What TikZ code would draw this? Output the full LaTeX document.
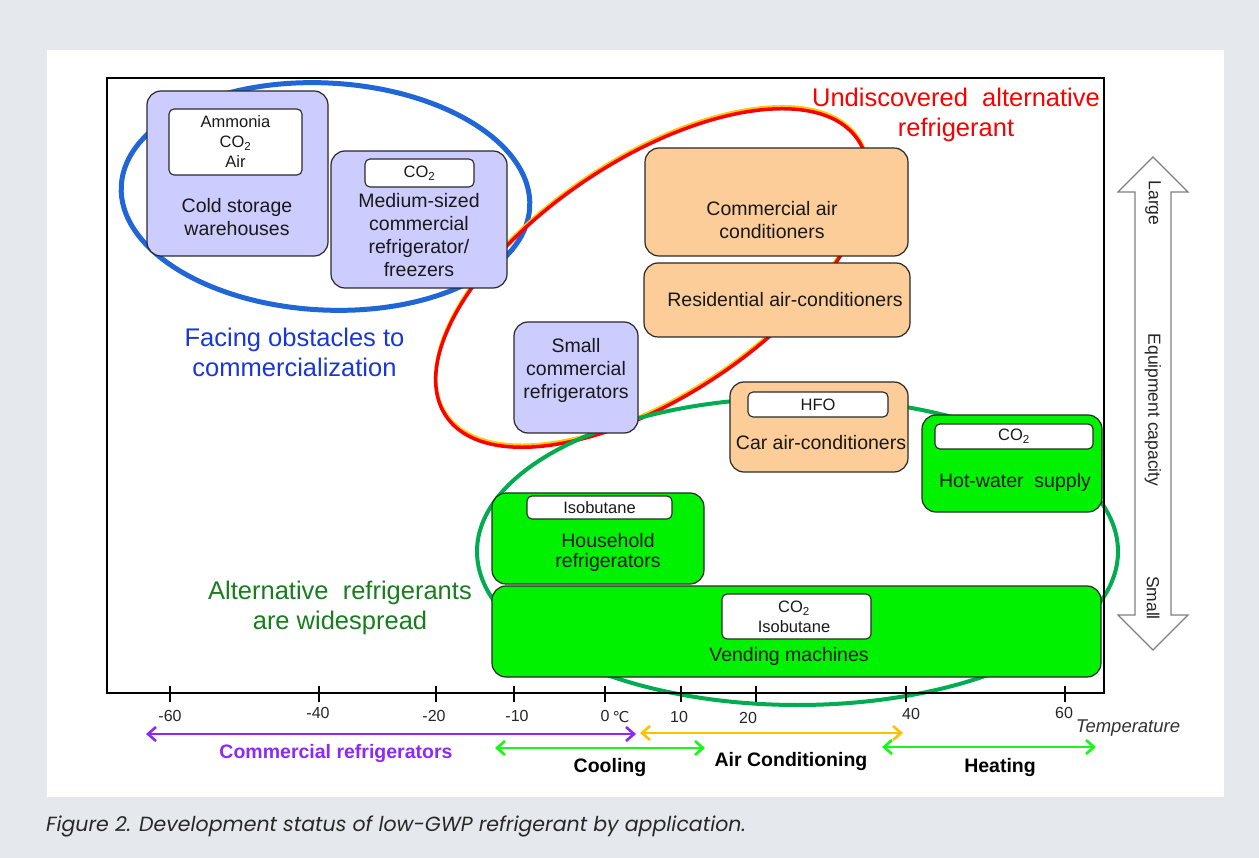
\documentclass[tikz,border=0pt]{standalone}
\usepackage{fontspec}
\setmainfont{Liberation Sans}
\newfontfamily\capfont{Poppins}
\newfontfamily\dejavu{DejaVu Sans}
\usetikzlibrary{arrows.meta}
\definecolor{bgc}{RGB}{229,233,237}
\definecolor{lav}{RGB}{204,204,255}
\definecolor{peach}{RGB}{252,204,153}
\definecolor{gbox}{RGB}{0,242,0}
\definecolor{eblue}{RGB}{32,102,214}
\definecolor{tblue}{RGB}{25,55,215}
\definecolor{egreen}{RGB}{0,172,80}
\definecolor{tgreen}{RGB}{25,125,30}
\definecolor{rred}{RGB}{250,0,0}
\definecolor{ryel}{RGB}{255,200,0}
\definecolor{purp}{RGB}{140,40,250}
\definecolor{aorange}{RGB}{255,192,0}
\definecolor{agreen}{RGB}{20,250,20}
\definecolor{edge}{RGB}{40,40,40}
\definecolor{capc}{RGB}{40,40,40}
\newcommand\cotwo{CO\textsubscript{2}}
\tikzset{
  box/.style={draw=edge, line width=1.2pt, rounded corners=14pt, inner sep=0pt},
  tag/.style={draw=edge, fill=white, line width=1.1pt, rounded corners=5pt, inner sep=0pt},
  txt/.style={font=\fontsize{19.5}{23}\selectfont, text=black!90, align=center, inner sep=0pt},
  smalltxt/.style={font=\fontsize{16.5}{20}\selectfont, text=black!90, align=center, inner sep=0pt},
  big/.style={font=\fontsize{25.5}{30}\selectfont, align=center, inner sep=0pt},
  ticklab/.style={font=\fontsize{16}{18}\selectfont, text=black!85, inner sep=0pt},
  rng/.style={line width=2.6pt, {Straight Barb[length=8pt,width=14pt]}-{Straight Barb[length=8pt,width=14pt]}},
  rlab/.style={font=\bfseries\fontsize{19.5}{23}\selectfont, inner sep=0pt},
  vlab/.style={font=\fontsize{17.5}{21}\selectfont, text=black!85, rotate=-90, inner sep=0pt},
}
\begin{document}
\begin{tikzpicture}[x=1pt,y=-1pt]
\useasboundingbox (0,0) rectangle (1259,858);
\fill[bgc] (0,0) rectangle (1259,858);
\fill[white] (47,50) rectangle (1224,797);

% ellipses
\draw[eblue, line width=5pt, rotate around={-3:(325.5,196.5)}] (325.5,196.5) ellipse [x radius=204.5, y radius=113.5];
\draw[ryel, line width=3.5pt, rotate around={33.8:(652,276)}] (652,276) ellipse [x radius=248, y radius=118];
\draw[rred, line width=3.5pt, rotate around={33.8:(652,278)}] (652,278) ellipse [x radius=248, y radius=118];
\draw[egreen, line width=4pt] (797.5,551.5) ellipse [x radius=320.5, y radius=153.5];

% frame and ticks
\draw[line width=2pt] (107,78) rectangle (1104,693);
\foreach \t in {170,319,436,514,605,681,756,906,1065}
  \draw[line width=1.8pt] (\t,686) -- (\t,702);

% boxes
\node[box, fill=lav, minimum width=181pt, minimum height=165pt] (cold) at (237.5,173.5) {};
\node[tag, minimum width=133pt, minimum height=66pt] (coldtag) at (235.5,142) {};
\node[box, fill=lav, minimum width=176pt, minimum height=137pt] (med) at (419,219.5) {};
\node[tag, minimum width=109pt, minimum height=28pt] (medtag) at (419.5,173) {};
\node[box, fill=peach, minimum width=263pt, minimum height=108pt] (cac) at (776.5,202) {};
\node[box, fill=peach, minimum width=266pt, minimum height=74pt] (rac) at (777,300) {};
\node[box, fill=lav, minimum width=124pt, minimum height=111pt] (scr) at (576,377.5) {};
\node[box, fill=peach, minimum width=178pt, minimum height=90pt] (car) at (819,427) {};
\node[tag, minimum width=140pt, minimum height=25pt] (cartag) at (818,404.5) {};
\node[box, fill=gbox, minimum width=180pt, minimum height=97pt] (hot) at (1012,463.5) {};
\node[tag, minimum width=158pt, minimum height=25pt] (hottag) at (1014,436.5) {};
\node[box, fill=gbox, minimum width=212pt, minimum height=91pt] (house) at (598,538.5) {};
\node[tag, minimum width=145pt, minimum height=23pt] (housetag) at (599.5,507.5) {};
\node[box, fill=gbox, minimum width=609pt, minimum height=91pt] (vend) at (796.5,631.5) {};
\node[tag, minimum width=149pt, minimum height=45pt] (vendtag) at (796.5,616.5) {};

% box texts
\node[smalltxt] (t1) at (235.5,142) {Ammonia\\\cotwo\\Air};
\node[txt] (t2) at (237,217) {Cold storage\\warehouses};
\node[smalltxt] (t3) at (419.5,173) {\cotwo};
\node[txt] (t4) at (419,235) {Medium-sized\\commercial\\refrigerator/\\freezers};
\node[txt] (t5) at (772,220) {Commercial air\\conditioners};
\node[txt] (t6) at (785,300) {Residential air-conditioners};
\node[txt] (t7) at (576,370.5) {Small\\commercial\\refrigerators};
\node[smalltxt] (t8) at (818,404.5) {HFO};
\node[txt] (t9) at (821,443) {Car air-conditioners};
\node[smalltxt] (t10) at (1014,436.5) {\cotwo};
\node[txt] (t11) at (1015,482) {Hot-water\ \ supply};
\node[smalltxt] (t12) at (599.5,507.5) {Isobutane};
\node[txt, font=\fontsize{19.5}{20}\selectfont] (t13) at (608,552) {Household\\refrigerators};
\node[smalltxt] (t14) at (794,617) {\cotwo\\Isobutane};
\node[txt] (t15) at (789,656) {Vending machines};

% big labels
\node[big, text=tblue] (lblue) at (294.5,352) {Facing obstacles to\\commercialization};
\node[big, text=rred] (lred) at (956,115) {Undiscovered\ \ alternative\\refrigerant};
\node[big, text=tgreen] (lgreen) at (340,608) {Alternative\ \ refrigerants\\are widespread};

% tick labels
\node[ticklab] (x1) at (170,716) {-60};
\node[ticklab] (x2) at (318,713) {-40};
\node[ticklab] (x3) at (434,716) {-20};
\node[ticklab] (x4) at (517,716) {-10};
\node[ticklab] (x5) at (605,716) {0};
\node[ticklab, font=\dejavu\fontsize{15}{17}\selectfont] (x5c) at (621,717) {℃};
\node[ticklab] (x6) at (679,717) {10};
\node[ticklab] (x7) at (748,718) {20};
\node[ticklab] (x8) at (911,714) {40};
\node[ticklab] (x9) at (1064,713) {60};
\node[font=\itshape\fontsize{18.5}{21}\selectfont, text=black!80, inner sep=0pt] (temp) at (1128,728) {Temperature};

% range arrows
\coordinate (pa) at (146,734); \coordinate (pb) at (636,734);
\coordinate (oa) at (640,733); \coordinate (ob) at (903,733);
\coordinate (ga) at (495,748); \coordinate (gb) at (705,748);
\coordinate (ha) at (882,747); \coordinate (hb) at (1096,747);
\draw[rng, purp] (pa) -- (pb);
\draw[rng, aorange] (oa) -- (ob);
\draw[rng, agreen] (ga) -- (gb);
\draw[rng, agreen] (ha) -- (hb);
\node[rlab, text=purp] (lpurp) at (336,753) {Commercial refrigerators};
\node[rlab] (lcool) at (610,767) {Cooling};
\node[rlab] (lair) at (791,761) {Air Conditioning};
\node[rlab] (lheat) at (1000,767) {Heating};

% capacity arrow
\draw[draw=black!50, fill=white, line width=1.2pt]
  (1153,157) -- (1188,192) -- (1171,192) -- (1171,615) -- (1188,615) -- (1153,650)
  -- (1118,615) -- (1135,615) -- (1135,192) -- (1118,192) -- cycle;
\node[vlab] (vl) at (1153,203) {Large};
\node[vlab] (vc) at (1153,410) {Equipment capacity};
\node[vlab] (vs) at (1153,598) {Small};

% caption
\node[anchor=west, inner sep=0pt, text=capc, font=\capfont\itshape\fontsize{20.5}{23}\selectfont] (cap) at (46,826)
  {Figure 2. Development status of low-GWP refrigerant by application.};
\end{tikzpicture}
\end{document}
